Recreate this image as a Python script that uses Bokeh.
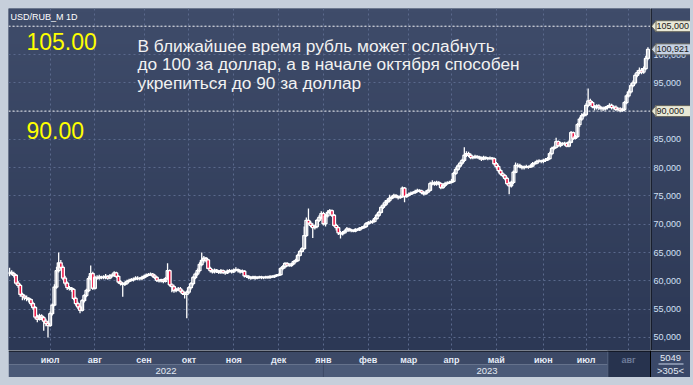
import numpy as np
from bokeh.plotting import figure
from bokeh.models import Range1d, FixedTicker, Span, Label, ColumnDataSource
from bokeh.layouts import column, row
from bokeh.core.properties import value
from bokeh.embed import file_html
from bokeh.resources import INLINE

# ---------------- data ----------------
symbol = "USD/RUB_M 1D"
levels = [105.0, 90.0]
level_texts = ["105.00", "90.00"]
headline = ["В ближайшее время рубль может ослабнуть",
            "до 100 за доллар, а в начале октября способен",
            "укрепиться до 90 за доллар"]
price_ticks = [50, 55, 60, 65, 70, 75, 80, 85, 90, 95, 100, 105]
month_names = ["июл", "авг", "сен", "окт", "ноя", "дек", "янв",
               "фев", "мар", "апр", "май", "июн", "июл", "авг"]
month_start_bar = [19, 40, 63, 84, 105, 126, 147, 168, 187, 207, 228, 250, 270, 290]
year_names = ["2022", "2023"]
year_start_bar = [0, 147]
last_price = 100.921
counter_top = "5049"
counter_bottom = ">305<"

first_open = 61.3
closes = [
    61.5, 61.3, 61.0, 59.6, 59.2, 57.6, 57.3, 57.0, 56.9, 56.7,
    56.0, 55.3, 53.6, 53.2, 53.8, 53.5, 52.9, 52.5, 52.1, 54.2,
    55.7, 58.9, 61.8, 63.2, 62.4, 60.5, 59.6, 58.8, 58.7, 58.5,
    56.9, 56.0, 55.4, 54.8, 56.5, 57.4, 58.3, 60.4, 61.3, 58.7,
    60.6, 60.5, 60.7, 60.6, 60.6, 60.8, 60.5, 60.9, 61.0, 61.4,
    60.8, 59.8, 59.5, 59.4, 59.6, 59.9, 60.1, 60.2, 60.3, 60.5,
    60.4, 60.4, 60.6, 60.8, 61.0, 61.1, 61.2, 60.9, 60.6, 60.1,
    60.0, 60.2, 59.9, 60.4, 61.8, 59.3, 59.0, 58.3, 58.5, 58.6,
    58.2, 57.8, 57.6, 58.0, 58.8, 59.5, 60.6, 61.2, 61.8, 62.9,
    63.6, 64.0, 63.7, 62.2, 61.8, 61.6, 61.9, 61.7, 61.5, 61.8,
    61.5, 61.4, 61.7, 61.8, 61.6, 61.9, 62.0, 61.8, 61.6, 61.7,
    60.9, 60.8, 60.6, 60.5, 60.7, 60.5, 60.6, 60.7, 60.6, 60.6,
    60.7, 60.6, 60.8, 60.7, 60.9, 61.0, 61.1, 62.2, 62.5, 63.1,
    62.8, 62.7, 63.0, 63.4, 63.6, 64.5, 65.2, 65.7, 68.0, 70.7,
    70.2, 69.8, 69.4, 69.6, 70.7, 71.2, 71.9, 70.1, 71.5, 72.1,
    72.4, 71.6, 69.8, 69.4, 68.5, 68.3, 68.5, 68.8, 69.2, 69.0,
    68.9, 68.8, 69.1, 69.0, 69.3, 69.4, 69.6, 70.1, 70.3, 70.4,
    70.5, 71.0, 71.6, 72.1, 73.0, 73.4, 73.9, 74.2, 74.6, 74.8,
    75.1, 74.9, 74.7, 74.9, 76.4, 74.9, 75.1, 75.3, 75.5, 75.6,
    75.8, 76.0, 75.9, 75.6, 75.4, 75.7, 76.0, 77.2, 77.3, 77.1,
    77.4, 77.2, 76.5, 76.9, 77.2, 77.3, 77.4, 77.6, 79.0, 79.7,
    80.3, 80.8, 81.3, 82.2, 82.5, 82.2, 81.8, 81.8, 82.0, 81.9,
    81.7, 81.5, 81.8, 81.7, 81.6, 81.7, 81.6, 80.7, 80.2, 79.5,
    78.9, 78.6, 78.1, 77.2, 76.8, 77.4, 79.2, 80.4, 80.4, 80.2,
    80.0, 80.1, 80.2, 80.1, 80.3, 80.7, 80.8, 81.1, 81.2, 81.1,
    81.3, 81.4, 81.6, 82.5, 83.4, 83.6, 84.6, 83.9, 84.3, 84.2,
    84.3, 83.8, 84.5, 86.2, 85.2, 85.5, 87.6, 88.6, 89.2, 89.4,
    91.0, 91.8, 91.5, 90.8, 90.6, 90.9, 90.6, 90.5, 90.4, 90.6,
    90.8, 91.0, 90.6, 90.7, 90.3, 90.4, 90.1, 90.3, 91.5, 92.7,
    93.4, 94.5, 95.0, 96.3, 96.8, 97.2, 96.9, 97.5, 99.3, 100.921,
]
highs = [
    62.3, 61.9, 61.6, 61.2, 60.0, 59.5, 57.9, 57.6, 57.4, 57.1,
    56.9, 56.3, 55.5, 54.0, 54.2, 54.1, 53.8, 53.3, 52.9, 54.6,
    56.0, 59.4, 62.5, 65.0, 63.7, 62.7, 60.9, 59.9, 59.1, 58.9,
    58.7, 57.2, 56.3, 55.7, 56.8, 57.7, 58.6, 60.8, 62.7, 61.6,
    60.9, 61.0, 61.1, 60.9, 61.0, 61.2, 61.0, 61.2, 61.3, 61.7,
    61.6, 61.0, 60.1, 59.8, 59.9, 60.2, 60.4, 60.5, 60.6, 60.8,
    60.8, 60.7, 60.9, 61.1, 61.3, 61.4, 61.5, 61.4, 61.2, 60.8,
    60.3, 60.4, 60.4, 60.7, 63.1, 62.0, 59.6, 59.3, 58.8, 58.9,
    58.9, 58.5, 58.1, 58.3, 59.1, 59.8, 60.9, 61.5, 62.2, 63.3,
    65.0, 64.4, 64.2, 63.9, 62.5, 62.1, 62.2, 62.1, 61.9, 62.1,
    62.0, 61.8, 62.0, 62.1, 62.0, 62.2, 62.4, 62.2, 62.0, 62.0,
    61.9, 61.1, 61.0, 60.8, 60.9, 60.9, 60.8, 60.9, 60.9, 60.8,
    60.9, 60.9, 61.0, 61.0, 61.1, 61.2, 61.3, 62.4, 62.8, 63.3,
    63.3, 63.1, 63.2, 63.6, 63.9, 64.8, 65.5, 66.0, 69.6, 71.2,
    72.8, 70.6, 70.2, 69.9, 71.0, 71.6, 72.3, 72.2, 71.8, 72.5,
    72.7, 72.6, 71.8, 70.1, 69.6, 68.8, 68.8, 69.1, 69.5, 69.4,
    69.2, 69.1, 69.3, 69.3, 69.5, 69.7, 69.9, 70.4, 70.6, 70.7,
    70.8, 71.3, 71.9, 72.4, 73.3, 73.8, 74.3, 74.6, 75.2, 75.1,
    75.4, 75.3, 75.1, 75.2, 76.7, 76.6, 75.4, 75.6, 75.8, 75.9,
    76.1, 76.3, 76.2, 76.1, 75.9, 76.0, 76.3, 77.5, 77.8, 77.6,
    77.7, 77.6, 77.4, 77.2, 77.5, 77.6, 77.7, 78.0, 79.3, 80.1,
    80.6, 81.1, 81.6, 83.6, 82.9, 82.8, 82.5, 82.1, 82.3, 82.2,
    82.1, 82.0, 82.1, 82.0, 81.9, 82.0, 81.9, 81.8, 81.0, 80.5,
    79.8, 79.2, 78.9, 78.4, 77.5, 77.7, 79.5, 80.9, 80.8, 80.7,
    80.4, 80.4, 80.5, 80.4, 80.6, 81.0, 81.1, 81.4, 81.5, 81.4,
    81.6, 81.7, 81.9, 82.8, 83.7, 83.9, 85.3, 84.8, 84.6, 84.5,
    84.6, 84.5, 84.8, 86.5, 86.4, 85.8, 87.9, 88.9, 89.6, 89.8,
    91.4, 94.0, 92.2, 91.8, 91.1, 91.2, 91.2, 90.9, 90.8, 90.9,
    91.1, 91.4, 91.3, 91.0, 91.0, 90.7, 90.7, 90.6, 91.8, 93.0,
    93.8, 94.9, 95.4, 96.7, 97.2, 97.7, 97.6, 97.9, 99.8, 101.3,
]
lows = [
    60.8, 61.0, 60.6, 59.3, 58.8, 57.2, 56.6, 56.6, 56.4, 56.2,
    55.6, 54.9, 53.2, 52.7, 53.0, 53.1, 51.2, 52.0, 50.0, 51.9,
    53.9, 55.5, 58.6, 61.5, 62.0, 60.1, 59.2, 58.4, 58.3, 58.1,
    56.6, 55.6, 55.0, 54.3, 54.6, 56.2, 57.1, 58.0, 60.1, 58.4,
    58.5, 60.2, 60.2, 60.3, 60.3, 60.3, 60.2, 60.3, 60.6, 60.7,
    60.5, 59.5, 59.2, 57.2, 59.1, 59.3, 59.7, 59.9, 59.9, 60.1,
    60.1, 60.1, 60.1, 60.4, 60.6, 60.8, 60.9, 60.6, 60.3, 59.8,
    59.7, 59.7, 59.6, 59.7, 60.2, 59.0, 58.0, 57.9, 58.0, 58.2,
    57.9, 57.5, 56.9, 53.4, 57.7, 58.5, 59.2, 60.3, 60.9, 61.5,
    62.6, 63.2, 63.3, 62.0, 61.5, 61.3, 61.3, 61.4, 61.2, 61.2,
    61.2, 61.1, 61.2, 61.5, 61.3, 61.4, 61.7, 61.5, 61.3, 61.4,
    60.6, 60.5, 60.3, 60.2, 60.3, 60.2, 60.3, 60.4, 60.3, 60.3,
    60.4, 60.4, 60.4, 60.5, 60.5, 60.7, 60.8, 60.9, 61.9, 62.2,
    62.5, 62.5, 62.5, 62.8, 63.2, 63.4, 64.3, 65.0, 65.5, 67.8,
    69.9, 69.5, 67.6, 69.1, 69.3, 70.4, 70.9, 69.8, 69.6, 71.2,
    71.8, 71.3, 69.5, 68.9, 68.1, 67.5, 68.0, 68.4, 68.8, 68.7,
    68.6, 68.6, 68.6, 68.8, 68.8, 69.1, 69.2, 69.4, 69.9, 70.1,
    70.1, 70.3, 70.8, 71.3, 71.9, 72.7, 73.2, 73.5, 73.9, 74.4,
    74.6, 74.6, 74.4, 74.5, 74.7, 73.9, 74.7, 74.9, 75.2, 75.3,
    75.4, 75.6, 75.6, 75.3, 75.1, 75.2, 75.5, 75.8, 76.9, 76.8,
    76.8, 76.9, 76.2, 76.3, 76.6, 77.0, 77.1, 77.2, 77.4, 78.7,
    79.4, 80.0, 80.5, 81.0, 81.9, 81.9, 81.5, 81.5, 81.6, 81.6,
    81.4, 81.2, 81.3, 81.4, 81.3, 81.4, 81.3, 80.4, 79.8, 79.1,
    78.6, 78.3, 77.8, 76.9, 75.3, 76.5, 77.1, 79.0, 80.0, 79.9,
    79.7, 79.7, 79.9, 79.8, 80.0, 80.1, 80.5, 80.6, 80.9, 80.8,
    80.8, 81.0, 81.2, 81.4, 82.2, 83.1, 83.4, 83.7, 83.6, 83.9,
    83.9, 83.6, 83.6, 84.3, 84.9, 85.0, 85.3, 87.2, 88.3, 88.9,
    89.1, 90.7, 91.1, 90.5, 90.1, 90.3, 90.2, 90.1, 90.0, 90.1,
    90.3, 90.5, 90.3, 90.3, 90.0, 90.0, 89.8, 89.9, 90.0, 91.2,
    92.4, 93.1, 94.2, 94.7, 96.0, 96.5, 96.5, 96.6, 97.2, 99.0,
]
opens = [first_open] + closes[:-1]


def fmt(v):
    return f"{v:.3f}".replace(".", ",")


# ---------------- layout constants ----------------
FRAME_W, FRAME_H = 642, 342
RIGHT_W = 40
BOTTOM_H = 27
X0, X1 = -0.5, 300.2
Y0, Y1 = 47.70, 108.13
PPB = FRAME_W / (X1 - X0)          # pixels per bar
PPU = FRAME_H / (Y1 - Y0)          # pixels per price unit


def xpx(px):   # page pixel -> bar coordinate
    return X0 + (px - 8) / PPB


def ypx(py):   # page pixel -> price
    return Y1 - (py - 8) / PPU


def common(fig):
    fig.grid.visible = False
    fig.outline_line_color = None


# background gradient (style only)
n = 96
t = np.linspace(0.0, 1.0, n)[:, None]
c_bot = np.array([44, 56, 85], dtype=float)
c_top = np.array([63, 76, 106], dtype=float)
rgb = (c_bot + (c_top - c_bot) * t).astype(np.uint8)
img = np.empty((n, 1), dtype=np.uint32)
view = img.view(dtype=np.uint8).reshape((n, 1, 4))
view[:, 0, 0:3] = rgb
view[:, 0, 3] = 255

# ---------------- main chart ----------------
yr = Range1d(Y0, Y1)
p = figure(width=FRAME_W, height=FRAME_H,
           x_range=Range1d(X0, X1), y_range=yr,
           x_axis_location=None, y_axis_location=None,
           output_backend="svg", toolbar_location=None, min_border=0)
p.background_fill_color = "#33405d"
p.border_fill_color = "#33405d"
p.outline_line_color = None
p.image_rgba(image=[img], x=X0, y=Y0, dw=X1 - X0, dh=Y1 - Y0, level="image")

p.ygrid.ticker = FixedTicker(ticks=price_ticks)
p.xgrid.ticker = FixedTicker(ticks=month_start_bar)
for g in (p.xgrid, p.ygrid):
    g.grid_line_color = "#5a698c"
    g.grid_line_dash = "2 3"
    g.grid_line_width = 1

idx = list(range(len(closes)))
body_top = [max(o, c) for o, c in zip(opens, closes)]
body_bot = [min(o, c) for o, c in zip(opens, closes)]
fill = ["#ee1040" if c < o else "#2f3b58" for o, c in zip(opens, closes)]
fill_a = [1.0 if c < o else 0.0 for o, c in zip(opens, closes)]
src = ColumnDataSource(dict(x=idx, high=highs, low=lows, top=body_top,
                            bottom=body_bot, fill=fill, fa=fill_a))
p.segment(x0="x", y0="low", x1="x", y1="high", source=src,
          line_color="#ffffff", line_width=1.3)
p.vbar(x="x", width=1.3, top="top", bottom="bottom", source=src,
       fill_color="fill", fill_alpha="fa", line_color="#ffffff", line_width=1.3)

for lv in levels:
    p.add_layout(Span(location=lv, dimension="width", line_color="#f0f0f0",
                      line_dash="2 2", line_width=1))

p.add_layout(Label(x=xpx(10), y=ypx(16), text=symbol, text_font="Liberation Sans",
                   text_font_size="9px", text_color="#ffffff", text_baseline="middle"))
for txt, py in zip(level_texts, [41, 130]):
    p.add_layout(Label(x=xpx(26), y=ypx(py), text=txt, text_font="Liberation Sans",
                       text_font_size="23px", text_color="#ffff00", text_baseline="middle"))
for line, py in zip(headline, [45, 63.5, 82]):
    p.add_layout(Label(x=xpx(137), y=ypx(py), text=line, text_font="Liberation Sans",
                       text_font_size="17.3px", text_color="#f2f2f2", text_baseline="middle"))

# ---------------- right price scale ----------------
r = figure(width=RIGHT_W, height=FRAME_H, x_range=Range1d(0, RIGHT_W), y_range=yr,
           x_axis_location=None, y_axis_location=None,
           output_backend="svg", toolbar_location=None, min_border=0)
common(r)
r.background_fill_color = "#33405d"
r.border_fill_color = "#33405d"
r.image_rgba(image=[img], x=0, y=Y0, dw=RIGHT_W, dh=Y1 - Y0, level="image")
r.text(x=[3] * len(price_ticks), y=price_ticks, text=[fmt(tk) for tk in price_ticks],
       text_font=value("Liberation Sans"), text_font_size="9px",
       text_align="left", text_baseline="middle", text_color="#d3e0f5")

tag_prices = levels + [last_price]
tag_fill = ["#e9e9d6", "#e9e9d6", "#c6d2e4"]
half = 5.5 / PPU
r.quad(left=[5] * 3, right=[RIGHT_W] * 3,
       bottom=[pr - half for pr in tag_prices], top=[pr + half for pr in tag_prices],
       fill_color=tag_fill, line_color="#62625a", line_width=1)
r.patches(xs=[[1, 5.5, 5.5] for _ in tag_prices],
          ys=[[pr, pr + half, pr - half] for pr in tag_prices],
          fill_color=tag_fill, line_color="#62625a", line_width=1)
r.text(x=[6] * 3, y=tag_prices, text=[fmt(pr) for pr in tag_prices],
       text_font=value("Liberation Sans"), text_font_size="9px",
       text_align="left", text_baseline="middle", text_color="#1a1a1a")
r.segment(x0=0.5, x1=0.5, y0=Y0, y1=Y1, line_color="#000000", line_width=1)

# ---------------- bottom time scale ----------------
QX1 = X0 + (FRAME_W + RIGHT_W) / PPB
q = figure(width=FRAME_W + RIGHT_W, height=BOTTOM_H,
           x_range=Range1d(X0, QX1), y_range=Range1d(0, BOTTOM_H),
           x_axis_location=None, y_axis_location=None,
           output_backend="svg", toolbar_location=None, min_border=0)
common(q)
q.background_fill_color = "#c6cfdb"
q.border_fill_color = "#c6cfdb"

q.quad(left=X0, right=X1, bottom=13, top=27, fill_color="#3c4966", line_color=None)
band_left = [X0] + year_start_bar[1:]
band_right = year_start_bar[1:] + [X1]
q.quad(left=band_left, right=band_right, bottom=0, top=13,
       fill_color="#4b5a78", line_color=None)
q.segment(x0=year_start_bar[1], x1=year_start_bar[1], y0=0, y1=13,
          line_color="#3a4662", line_width=1)
box_l = month_start_bar[-1] - 9.8
q.quad(left=box_l, right=X1, bottom=0, top=27, fill_color="#27334e", line_color=None)
q.segment(x0=box_l, x1=box_l, y0=0, y1=27, line_color="#56647f", line_width=1)
q.quad(left=X1, right=QX1, bottom=0, top=27, fill_color="#3a4868", line_color=None)
q.segment(x0=X0, x1=QX1, y0=26.5, y1=26.5, line_color="#000000", line_width=1)
q.segment(x0=X1, x1=X1, y0=0, y1=27, line_color="#000000", line_width=1)

m_colors = ["#e6ecf7"] * (len(month_names) - 1) + ["#6d7b98"]
q.text(x=month_start_bar, y=[18] * len(month_names), text=month_names,
       text_font=value("Liberation Sans"), text_font_style="bold", text_font_size="9px",
       text_align="center", text_baseline="middle", text_color=m_colors)
year_x = [(a + b) / 2 for a, b in zip(band_left, band_right)]
q.text(x=year_x, y=[7] * len(year_names), text=year_names,
       text_font=value("Liberation Sans"), text_font_size="9.5px",
       text_align="center", text_baseline="middle", text_color="#e4eaf4")
cx = (X1 + QX1) / 2
q.text(x=[cx, cx], y=[20, 7], text=[counter_top, counter_bottom],
       text_font=value("Liberation Sans"), text_font_size="9.5px",
       text_align="center", text_baseline="middle", text_color="#e4eaf4")
q.segment(x0=X1 + 8 / PPB, x1=QX1 - 7 / PPB, y0=13.5, y1=13.5,
          line_color="#c8d4e8", line_width=1)

layout = column(row(p, r, spacing=0), q, spacing=0)
html = file_html(layout, INLINE, title="USD/RUB")
html = html.replace(
    "</head>",
    "<style>html, body {background:#c6cfdb !important;} "
    "body {padding: 8px 0 0 8px !important; margin: 0 !important;}</style></head>", 1)
open("out.html", "w").write(html)
